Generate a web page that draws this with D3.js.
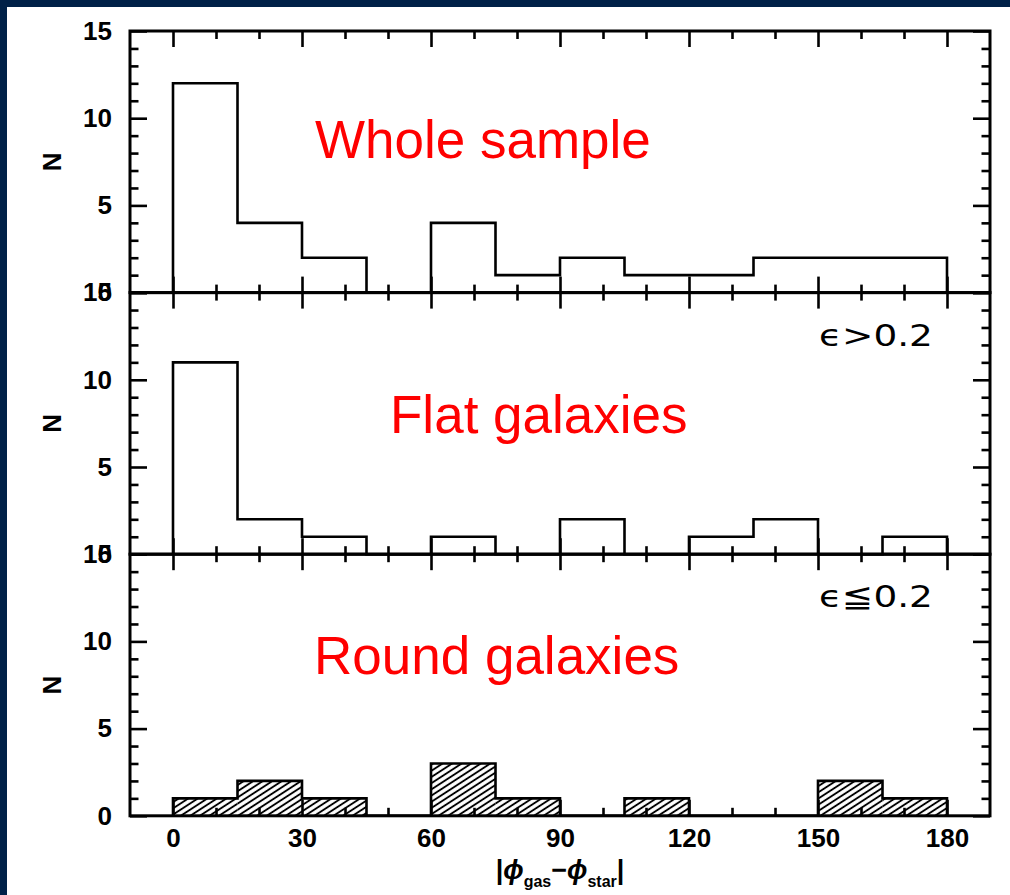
<!DOCTYPE html>
<html>
<head>
<meta charset="utf-8">
<script src="https://cdn.jsdelivr.net/npm/d3@7"></script>
<style>
  body { margin: 0; background: #fff; }
</style>
</head>
<body>
<div id="chart"></div>
<script>
// histogram bins, 15 degree wide, lower edges
var binEdges = [0, 15, 30, 45, 60, 75, 90, 105, 120, 135, 150, 165];
var binWidth = 15;

// counts per bin for each panel
var wholeCounts = [12, 4, 2, 0, 4, 1, 2, 1, 1, 2, 2, 2];
var flatCounts = [11, 2, 1, 0, 1, 0, 2, 0, 1, 2, 0, 1];
var roundCounts = [1, 2, 1, 0, 3, 1, 0, 1, 0, 0, 2, 1];

// tick labels
var xTickLabels = [0, 30, 60, 90, 120, 150, 180];
var yTickLabels = [0, 5, 10, 15];

// panel annotations
var panelNotes = ["Whole sample", "Flat galaxies", "Round galaxies"];
var panelCuts = ["", "\u03f5>0.2", "\u03f5\u22660.2"];

var svgWidth = 1010;
var svgHeight = 895;

var frame = { left: 130, right: 990, top: 31, panelHeight: 261.6 };

var svg = d3.select("#chart")
    .append("svg")
    .attr("width", svgWidth)
    .attr("height", svgHeight);

// navy slide border (left and top only)
svg.append("rect").attr("x", 0).attr("y", 0).attr("width", svgWidth).attr("height", 7).attr("fill", "#002148");
svg.append("rect").attr("x", 0).attr("y", 0).attr("width", 7).attr("height", svgHeight).attr("fill", "#002148");

// hatch pattern for the round galaxies panel
var defs = svg.append("defs");
var hatch = defs.append("pattern")
    .attr("id", "hatch")
    .attr("patternUnits", "userSpaceOnUse")
    .attr("width", 10)
    .attr("height", 5.2)
    .attr("patternTransform", "rotate(-33)");
hatch.append("line")
    .attr("x1", 0).attr("y1", 2.6)
    .attr("x2", 10).attr("y2", 2.6)
    .attr("stroke", "#000")
    .attr("stroke-width", 1.9);

var xScale = d3.scaleLinear()
    .domain([-10, 190])
    .range([frame.left, frame.right]);

var xMinor = d3.range(-10, 191, 10).filter(d => d % 30 !== 0 && d > -10 && d < 190);
var yMinor = d3.range(1, 15).filter(d => d % 5 !== 0);

var allCounts = [wholeCounts, flatCounts, roundCounts];

allCounts.forEach(function (counts, p) {
    var top = frame.top + p * frame.panelHeight;
    var bottom = top + frame.panelHeight;

    var yScale = d3.scaleLinear()
        .domain([0, 15])
        .range([bottom, top]);

    var panel = svg.append("g").attr("class", "panel-" + p);

    // hatched fill for the last panel
    if (p === 2) {
        panel.selectAll(".hbar")
            .data(binEdges.map((e, i) => ({ x0: e, n: counts[i] })).filter(d => d.n > 0))
            .enter()
            .append("rect")
            .attr("x", d => xScale(d.x0))
            .attr("y", d => yScale(d.n))
            .attr("width", d => xScale(d.x0 + binWidth) - xScale(d.x0))
            .attr("height", d => yScale(0) - yScale(d.n))
            .attr("fill", "url(#hatch)");
    }

    // histogram step outline
    var pts = [[binEdges[0], 0]];
    binEdges.forEach(function (e, i) { pts.push([e, counts[i]]); });
    pts.push([binEdges[binEdges.length - 1] + binWidth, counts[counts.length - 1]]);
    pts.push([binEdges[binEdges.length - 1] + binWidth, 0]);

    var step = d3.line()
        .x(d => xScale(d[0]))
        .y(d => yScale(d[1]))
        .curve(d3.curveStepAfter);

    panel.append("path")
        .attr("d", step(pts))
        .attr("fill", "none")
        .attr("stroke", "#000")
        .attr("stroke-width", 2.6)
        .attr("stroke-linejoin", "miter");

    // axes, ticks pointing inward on all four sides
    function styleAxis(g) {
        g.select(".domain").remove();
        g.selectAll("line").attr("stroke", "#000").attr("stroke-width", 2.6);
        g.attr("font-family", "'Liberation Sans', Arial, sans-serif")
            .attr("font-size", 26)
            .attr("font-weight", "bold");
        g.selectAll("text").attr("fill", "#000");
    }

    var isLast = p === 2;

    panel.append("g")
        .attr("transform", `translate(0, ${bottom})`)
        .call(d3.axisBottom(xScale).tickValues(xTickLabels).tickSize(-16).tickSizeOuter(0)
            .tickPadding(13).tickFormat(isLast ? d3.format("d") : ""))
        .call(styleAxis);
    panel.append("g")
        .attr("transform", `translate(0, ${bottom})`)
        .call(d3.axisBottom(xScale).tickValues(xMinor).tickSize(-8).tickSizeOuter(0).tickFormat(""))
        .call(styleAxis);
    panel.append("g")
        .attr("transform", `translate(0, ${top})`)
        .call(d3.axisTop(xScale).tickValues(xTickLabels).tickSize(-16).tickSizeOuter(0).tickFormat(""))
        .call(styleAxis);
    panel.append("g")
        .attr("transform", `translate(0, ${top})`)
        .call(d3.axisTop(xScale).tickValues(xMinor).tickSize(-8).tickSizeOuter(0).tickFormat(""))
        .call(styleAxis);

    panel.append("g")
        .attr("transform", `translate(${frame.left}, 0)`)
        .call(d3.axisLeft(yScale).tickValues(yTickLabels).tickSize(-17).tickSizeOuter(0)
            .tickPadding(18).tickFormat(d3.format("d")))
        .call(styleAxis);
    panel.append("g")
        .attr("transform", `translate(${frame.left}, 0)`)
        .call(d3.axisLeft(yScale).tickValues(yMinor).tickSize(-8.5).tickSizeOuter(0).tickFormat(""))
        .call(styleAxis);
    panel.append("g")
        .attr("transform", `translate(${frame.right}, 0)`)
        .call(d3.axisRight(yScale).tickValues(yTickLabels).tickSize(-17).tickSizeOuter(0).tickFormat(""))
        .call(styleAxis);
    panel.append("g")
        .attr("transform", `translate(${frame.right}, 0)`)
        .call(d3.axisRight(yScale).tickValues(yMinor).tickSize(-8.5).tickSizeOuter(0).tickFormat(""))
        .call(styleAxis);

    // panel frame
    panel.append("rect")
        .attr("x", frame.left)
        .attr("y", top)
        .attr("width", frame.right - frame.left)
        .attr("height", frame.panelHeight)
        .attr("fill", "none")
        .attr("stroke", "#000")
        .attr("stroke-width", 3);

    // y-axis label
    panel.append("text")
        .attr("transform", `translate(${61}, ${(top + bottom) / 2}) rotate(-90)`)
        .attr("text-anchor", "middle")
        .attr("font-family", "'Liberation Sans', Arial, sans-serif")
        .attr("font-size", 26)
        .attr("font-weight", "bold")
        .text("N");

    // epsilon cut label, stretched horizontally like the original plot font
    if (panelCuts[p]) {
        var cut = panel.append("text")
            .attr("font-family", "'DejaVu Sans', sans-serif")
            .attr("font-size", 31)
            .text(panelCuts[p]);
        var w = cut.node().getComputedTextLength();
        cut.attr("transform", `translate(819, ${top + 53}) scale(${114 / w}, 1)`);
    }
});

// red annotations
var noteX = [315, 390, 314];
var noteY = [158, 433, 674];
svg.selectAll(".note")
    .data(panelNotes)
    .enter()
    .append("text")
    .attr("class", "note")
    .attr("x", (d, i) => noteX[i])
    .attr("y", (d, i) => noteY[i])
    .attr("font-family", "'Liberation Sans', Arial, sans-serif")
    .attr("font-size", 53)
    .attr("fill", "#ff0000")
    .text(d => d);

// x-axis title |phi_gas - phi_star|
var xTitle = svg.append("text")
    .attr("x", xScale(90))
    .attr("y", 879)
    .attr("text-anchor", "middle")
    .attr("font-family", "'Liberation Sans', Arial, sans-serif")
    .attr("font-size", 27)
    .attr("font-weight", "bold");
xTitle.append("tspan").text("|");
xTitle.append("tspan").attr("font-style", "italic").text("\u03d5");
xTitle.append("tspan").attr("font-size", 16).attr("dy", 8).text("gas");
xTitle.append("tspan").attr("dy", -8).text("\u2212");
xTitle.append("tspan").attr("font-style", "italic").text("\u03d5");
xTitle.append("tspan").attr("font-size", 16).attr("dy", 8).text("star");
xTitle.append("tspan").attr("dy", -8).text("|");
</script>
</body>
</html>
